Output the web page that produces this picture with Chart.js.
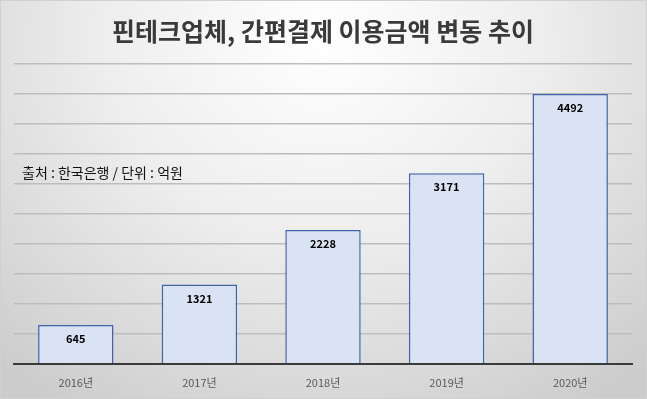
<!DOCTYPE html>
<html>
<head>
<meta charset="utf-8">
<script src="https://cdn.jsdelivr.net/npm/chart.js@4"></script>
<style>
  html, body { margin: 0; padding: 0; }
  #wrap {
    width: 647px; height: 399px; box-sizing: border-box;
    border: 1px solid #d0d0d0;
    background: radial-gradient(ellipse 75% 110% at 50% 10%, #ffffff 0%, #eeeeee 45%, #cccccc 100%);
  }
  canvas { display: block; }
</style>
</head>
<body>
<div id="wrap"><canvas id="chart" width="645" height="397"></canvas></div>
<script>
// data
const years = ["2016년", "2017년", "2018년", "2019년", "2020년"];
const amounts = [645, 1321, 2228, 3171, 4492];
const titleText = "핀테크업체, 간편결제 이용금액 변동 추이";
const noteText = "출처 : 한국은행 / 단위 : 억원";

const fontKR = "'Noto Sans CJK KR', 'Noto Sans', sans-serif";

// value labels + source note
const labelPlugin = {
  id: "labels",
  afterDatasetsDraw(chart) {
    const ctx = chart.ctx;
    ctx.save();
    ctx.fillStyle = "#000";
    ctx.font = "bold 11px " + fontKR;
    ctx.textAlign = "center";
    ctx.textBaseline = "middle";
    chart.getDatasetMeta(0).data.forEach((bar, i) => {
      ctx.fillText(amounts[i], bar.x, bar.y + 14);
    });
    ctx.font = "14px " + fontKR;
    ctx.textAlign = "left";
    ctx.fillStyle = "#111";
    ctx.fillText(noteText, 21, 172);
    ctx.restore();
  }
};

const ctx = document.getElementById("chart").getContext("2d");

new Chart(ctx, {
  type: "bar",
  data: {
    labels: years,
    datasets: [{
      data: amounts,
      backgroundColor: "#dae3f3",
      borderColor: "#3f64a8",
      borderWidth: 1.5,
      barPercentage: 0.61,
      categoryPercentage: 1
    }]
  },
  options: {
    responsive: false,
    animation: false,
    layout: { padding: { left: 13, right: 14, top: 0, bottom: 5 } },
    plugins: {
      legend: { display: false },
      tooltip: { enabled: false },
      title: {
        display: true,
        text: titleText,
        color: "#3a3a3a",
        font: { family: fontKR, size: 25, weight: "bold" },
        padding: { top: 15, bottom: 17.4 }
      }
    },
    scales: {
      x: {
        grid: { display: false },
        border: { color: "#3a3a3a", width: 2 },
        ticks: { color: "#595959", font: { family: fontKR, size: 11 }, padding: 4 }
      },
      y: {
        min: 0,
        max: 5000,
        ticks: { display: false, stepSize: 500 },
        grid: { color: "#bdbdbd", lineWidth: 1.5, drawTicks: false },
        border: { display: false }
      }
    }
  },
  plugins: [labelPlugin]
});
</script>
</body>
</html>
